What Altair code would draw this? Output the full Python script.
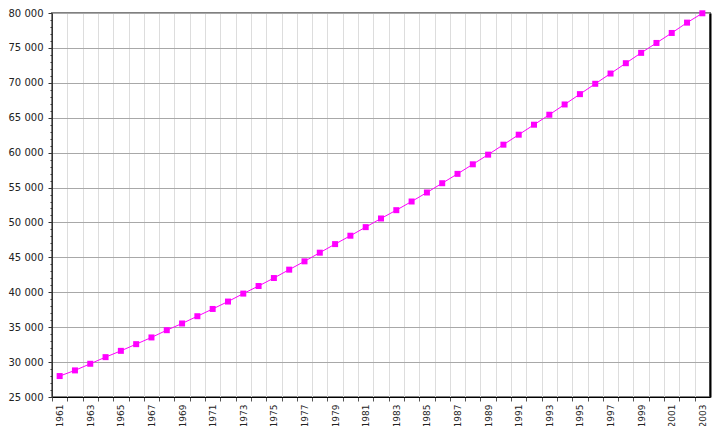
import altair as alt
import pandas as pd

years = list(range(1961, 2004))
values = [28000, 28810, 29760, 30710, 31610, 32570, 33530, 34570, 35530, 36570,
          37610, 38670, 39810, 40900, 42040, 43240, 44430, 45670, 46900, 48100,
          49330, 50570, 51760, 53000, 54290, 55620, 56960, 58330, 59710, 61140,
          62570, 64000, 65430, 66900, 68380, 69860, 71330, 72810, 74290, 75710,
          77140, 78620, 79960]
y_ticks = list(range(25000, 80001, 1000))

df = pd.DataFrame({"year": years, "value": values})

W = 658
H = 384
half = W / len(years) / 2

font = "DejaVu Sans"

x_enc = alt.X(
    "year:Q",
    scale=alt.Scale(domain=[years[0] - 0.5, years[-1] + 0.5], nice=False, zero=False),
    axis=alt.Axis(
        values=years,
        tickOffset=-half,
        labelOffset=half,
        format="d",
        labelExpr="datum.value % 2 == 1 ? datum.label : ''",
        labelAngle=270,
        labelFontSize=9,
        labelFont=font,
        labelColor="#222222",
        labelPadding=3,
        tickSize=4,
        tickColor="#555555",
        domainColor="#000000",
        gridColor="#dddddd",
        labelOverlap=False,
        labelFlush=False,
        title=None,
    ),
)

cond5000 = "datum.value % 5000 === 0"

y_left = alt.Y(
    "value:Q",
    scale=alt.Scale(domain=[25000, 80000], nice=False, zero=False),
    axis=alt.Axis(
        values=y_ticks,
        format=",d",
        labelExpr=f"{cond5000} ? replace(datum.label, ',', ' ') : ''",
        gridOpacity={"condition": {"test": cond5000, "value": 1}, "value": 0},
        gridColor="#a8a8a8",
        tickSize={"condition": {"test": cond5000, "value": 4}, "value": 2},
        tickColor="#333333",
        labelFontSize=10,
        labelFont=font,
        labelColor="#222222",
        labelPadding=5,
        domainColor="#333333",
        labelOverlap=False,
        title=None,
    ),
)

y_right = alt.Y(
    "value:Q",
    scale=alt.Scale(domain=[25000, 80000], nice=False, zero=False),
    axis=alt.Axis(
        orient="right",
        labels=False,
        ticks=False,
        grid=False,
        domainColor="#000000",
        domainWidth=2,
        title=None,
    ),
)

line = alt.Chart(df).mark_line(color="#ff00ff", strokeWidth=1).encode(x=x_enc, y=y_left)
pts = alt.Chart(df).mark_square(color="#ff00ff", size=36, opacity=1).encode(x=x_enc, y=y_right)

chart = (
    alt.layer(line, pts)
    .resolve_axis(y="independent")
    .properties(width=W, height=H, padding={"left": 0, "top": 0, "right": 2, "bottom": 0}, background="white")
    .configure_view(stroke="#808080", strokeWidth=2)
)

chart.save("out.html", embed_options={"renderer": "svg", "actions": False})
